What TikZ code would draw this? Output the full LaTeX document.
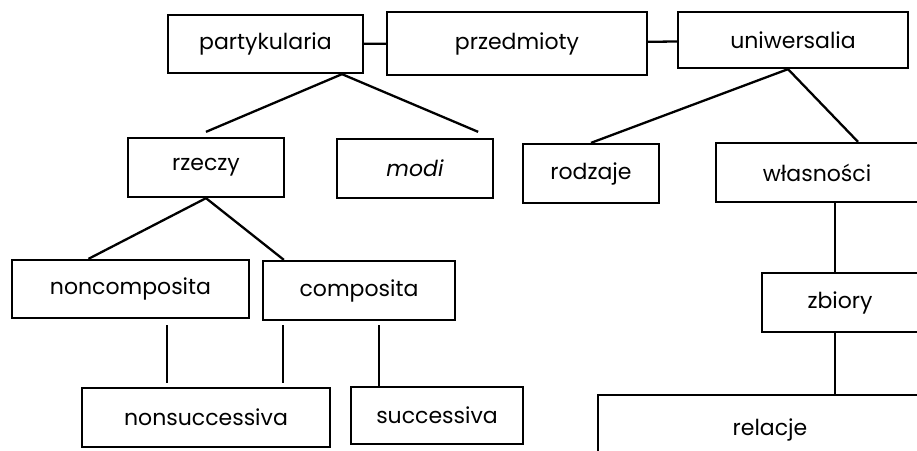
\documentclass[tikz,border=0pt]{standalone}
\usepackage{fontspec}
\setmainfont{Poppins}

\begin{document}
\begin{tikzpicture}[x=1pt,y=-1pt,line width=2.3pt,
    box/.style={draw,rectangle,inner sep=0pt,font=\fontsize{22}{26}\selectfont}]
      \clip (0,0) rectangle (917,450);
      % top row
      \node[box,minimum width=195pt,minimum height=58pt] (part) at (265.5,44) {partykularia};
      \node[box,minimum width=260pt,minimum height=63pt] (przed) at (517,43.5) {przedmioty};
      \node[box,minimum width=230pt,minimum height=56pt] (uniw) at (793,40) {uniwersalia};
      % second row
      \node[box,minimum width=156pt,minimum height=59pt] (rzeczy) at (206,167.5) {rzeczy};
      \node[box,minimum width=156pt,minimum height=59pt] (modi) at (415,168.5) {\itshape modi};
      \node[box,minimum width=136pt,minimum height=59pt] (rodz) at (591,173.5) {rodzaje};
      \node[box,minimum width=202pt,minimum height=59pt] (wlasn) at (817,172.5) {własności};
      % third row
      \node[box,minimum width=237pt,minimum height=58pt] (noncomp) at (130.5,289) {noncomposita};
      \node[box,minimum width=192pt,minimum height=59pt] (comp) at (359,290.5) {composita};
      \node[box,minimum width=156pt,minimum height=59pt] (zbiory) at (840,302.5) {zbiory};
      % bottom row
      \node[box,minimum width=248pt,minimum height=59pt] (nonsucc) at (206,417.5) {nonsuccessiva};
      \node[box,minimum width=172pt,minimum height=57pt] (succ) at (437,415.5) {successiva};
      \node[box,minimum width=344pt,minimum height=70pt] (rel) at (770,430) {relacje};
      % free line ends
      \coordinate (v1a) at (167,325); \coordinate (v1b) at (167,383);
      \coordinate (v2a) at (283,325); \coordinate (v2b) at (283,383);
      \coordinate (v3a) at (379,325); \coordinate (v3b) at (379,387);
      % connectors
      \draw (part) -- (przed);
      \draw (przed) -- (uniw);
      \draw ([yshift=5pt]rzeczy.north) -- ([xshift=76.5pt]part.south) -- ([xshift=-16pt,yshift=6pt]modi.north east);
      \draw (rodz.north) -- ([xshift=-5pt]uniw.south) -- ([xshift=41pt]wlasn.north);
      \draw ([xshift=-42pt]noncomp.north) -- (rzeczy.south) -- ([xshift=22pt]comp.north west);
      \draw (v1a) -- (v1b);
      \draw (v2a) -- (v2b);
      \draw (v3a) -- (v3b);
      \draw ([xshift=18pt]wlasn.south) -- ([xshift=-5pt]zbiory.north);
      \draw ([xshift=-5pt]zbiory.south) -- ([xshift=65pt]rel.north);
    \end{tikzpicture}
\end{document}
